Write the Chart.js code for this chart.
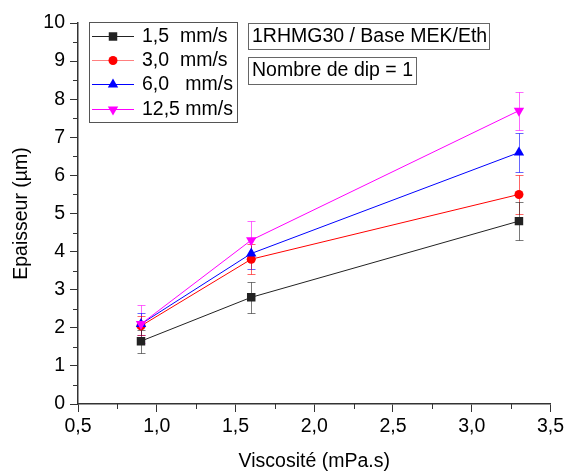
<!DOCTYPE html>
<html>
<head>
<meta charset="utf-8">
<script src="https://cdn.jsdelivr.net/npm/chart.js@4.4.1/dist/chart.umd.min.js"></script>
<style>
html, body { margin: 0; padding: 0; background: #fff; }
</style>
</head>
<body>
<canvas id="chart" width="567" height="472"></canvas>
<script>
// viscosité (mPa.s) des solutions
var viscosite = [0.9, 1.6, 3.3];

// épaisseur (µm) pour chaque vitesse de dip
var labels = ['1,5  mm/s', '3,0  mm/s', '6,0   mm/s', '12,5 mm/s'];
var ep15  = [1.65, 2.8, 4.8];
var ep30  = [2.05, 3.8, 5.5];
var ep60  = [2.1, 3.95, 6.6];
var ep125 = [2.1, 4.3, 7.7];

// barres d'erreur (+/-)
var err15  = [0.3, 0.4, 0.5];
var err30  = [0.25, 0.4, 0.5];
var err60  = [0.3, 0.4, 0.5];
var err125 = [0.5, 0.5, 0.5];

var annot1 = '1RHMG30 / Base MEK/Eth';
var annot2 = 'Nombre de dip = 1';

var FONT = '"Liberation Sans", Arial, sans-serif';

function pts(ys) {
    return viscosite.map(function(x, i){ return {x: x, y: ys[i]}; });
}
function fmt(v) {
    return v.toFixed(1).replace('.', ',');
}

function mkSet(label, ys, errs, color, style, radius, rot, order) {
    return {
        label: label,
        data: pts(ys),
        errors: errs,
        borderColor: color,
        backgroundColor: color,
        pointBackgroundColor: color,
        pointBorderColor: color,
        pointStyle: style,
        pointRadius: radius,
        pointRotation: rot,
        borderWidth: 1,
        pointBorderWidth: 0,
        tension: 0,
        order: order
    };
}

function drawMarker(ctx, style, x, y, r, rot, color) {
    ctx.fillStyle = color;
    ctx.beginPath();
    if (style === 'rect') {
        var s = r * Math.SQRT1_2;
        ctx.rect(x - s, y - s, 2 * s, 2 * s);
    } else if (style === 'circle') {
        ctx.arc(x, y, r, 0, Math.PI * 2);
    } else {
        var a = rot * Math.PI / 180;
        for (var k = 0; k < 3; k++) {
            var px = x + Math.sin(a) * r, py = y - Math.cos(a) * r;
            if (k === 0) ctx.moveTo(px, py); else ctx.lineTo(px, py);
            a += Math.PI * 2 / 3;
        }
        ctx.closePath();
    }
    ctx.fill();
}

var errorBars = {
    id: 'errorBars',
    beforeDatasetsDraw: function(chart) {
        var ctx = chart.ctx, xs = chart.scales.x, ys = chart.scales.y;
        ctx.save();
        ctx.lineWidth = 1;
        for (var d = chart.data.datasets.length - 1; d >= 0; d--) {
            var ds = chart.data.datasets[d];
            ctx.strokeStyle = ds.borderColor;
            ctx.globalAlpha = 0.6;
            ds.data.forEach(function(p, i){
                var e = ds.errors[i];
                var px = Math.round(xs.getPixelForValue(p.x)) + 0.5;
                var top = Math.round(ys.getPixelForValue(p.y + e)) + 0.5;
                var bot = Math.round(ys.getPixelForValue(p.y - e)) + 0.5;
                ctx.beginPath();
                ctx.moveTo(px, top); ctx.lineTo(px, bot);
                ctx.moveTo(px - 4, top); ctx.lineTo(px + 4, top);
                ctx.moveTo(px - 4, bot); ctx.lineTo(px + 4, bot);
                ctx.stroke();
            });
        }
        ctx.restore();
    }
};

var extras = {
    id: 'extras',
    afterDraw: function(chart) {
        var ctx = chart.ctx;
        var xs = chart.scales.x, ys = chart.scales.y;
        ctx.save();
        // graduations secondaires
        ctx.strokeStyle = '#333';
        ctx.lineWidth = 1;
        ctx.beginPath();
        for (var i = 0; i < xs.ticks.length - 1; i++) {
            var xm = Math.round(xs.getPixelForValue((xs.ticks[i].value + xs.ticks[i + 1].value) / 2)) + 0.5;
            ctx.moveTo(xm, ys.bottom); ctx.lineTo(xm, ys.bottom + 5);
        }
        for (var j = 0; j < ys.ticks.length - 1; j++) {
            var ym = Math.round(ys.getPixelForValue((ys.ticks[j].value + ys.ticks[j + 1].value) / 2)) + 0.5;
            ctx.moveTo(xs.left, ym); ctx.lineTo(xs.left - 5, ym);
        }
        ctx.stroke();

        // légende
        ctx.font = '19.5px ' + FONT;
        ctx.textBaseline = 'middle';
        ctx.textAlign = 'left';
        ctx.strokeStyle = '#555';
        ctx.strokeRect(89.5, 22.5, 148, 100);
        var rows = [36, 60, 84, 109];
        chart.data.datasets.forEach(function(ds, k){
            var y = rows[k] + 0.5;
            ctx.strokeStyle = ds.borderColor;
            ctx.globalAlpha = k === 1 ? 0.5 : 1;
            ctx.beginPath();
            ctx.moveTo(92, y); ctx.lineTo(134, y);
            ctx.stroke();
            ctx.globalAlpha = 1;
            drawMarker(ctx, ds.pointStyle, 113, y, ds.pointRadius, ds.pointRotation, ds.borderColor);
            ctx.fillStyle = '#000';
            ctx.fillText(ds.label, 142, rows[k] + 1);
        });

        // annotations
        ctx.strokeStyle = '#666';
        ctx.strokeRect(248.5, 23.5, 241, 26);
        ctx.strokeRect(248.5, 57.5, 168, 27);
        ctx.fillStyle = '#000';
        ctx.fillText(annot1, 252, 37);
        ctx.fillText(annot2, 252, 71);
        ctx.restore();
    }
};

new Chart(document.getElementById('chart'), {
    type: 'line',
    data: {
        datasets: [
            mkSet(labels[0], ep15, err15, '#222222', 'rect', 6, 0, 4),
            mkSet(labels[1], ep30, err30, '#ff0000', 'circle', 4.5, 0, 3),
            mkSet(labels[2], ep60, err60, '#0000ff', 'triangle', 6, 0, 2),
            mkSet(labels[3], ep125, err125, '#ff00ff', 'triangle', 6, 180, 1)
        ]
    },
    options: {
        responsive: false,
        animation: false,
        layout: { padding: { left: 0, top: 23, right: 15, bottom: 0 } },
        plugins: {
            legend: { display: false },
            tooltip: { enabled: false }
        },
        scales: {
            x: {
                type: 'linear',
                min: 0.5,
                max: 3.5,
                afterFit: function(s){ s.height = 68; },
                ticks: {
                    stepSize: 0.5,
                    autoSkip: false,
                    maxRotation: 0,
                    padding: 3,
                    color: '#000',
                    font: { family: FONT, size: 19.5 },
                    callback: function(v){ return fmt(v); }
                },
                grid: { drawOnChartArea: false, drawTicks: true, tickLength: 8, tickColor: '#333', tickWidth: 1 },
                border: { display: true, color: '#333', width: 1.5 },
                title: {
                    display: true,
                    text: 'Viscosité (mPa.s)',
                    color: '#000',
                    font: { family: FONT, size: 19.5, lineHeight: 1 },
                    padding: { top: 0, bottom: 1 }
                }
            },
            y: {
                min: 0,
                max: 10,
                afterFit: function(s){ s.width = 78; },
                ticks: {
                    stepSize: 1,
                    autoSkip: false,
                    padding: 5,
                    color: '#000',
                    font: { family: FONT, size: 19.5 },
                    callback: function(v){ return String(v); }
                },
                grid: { drawOnChartArea: false, drawTicks: true, tickLength: 8, tickColor: '#333', tickWidth: 1 },
                border: { display: true, color: '#333', width: 1.5 },
                title: {
                    display: true,
                    text: 'Epaisseur (µm)',
                    color: '#000',
                    font: { family: FONT, size: 19.5, lineHeight: 1 },
                    padding: { top: 12, bottom: 0 }
                }
            }
        }
    },
    plugins: [errorBars, extras]
});
</script>
</body>
</html>
